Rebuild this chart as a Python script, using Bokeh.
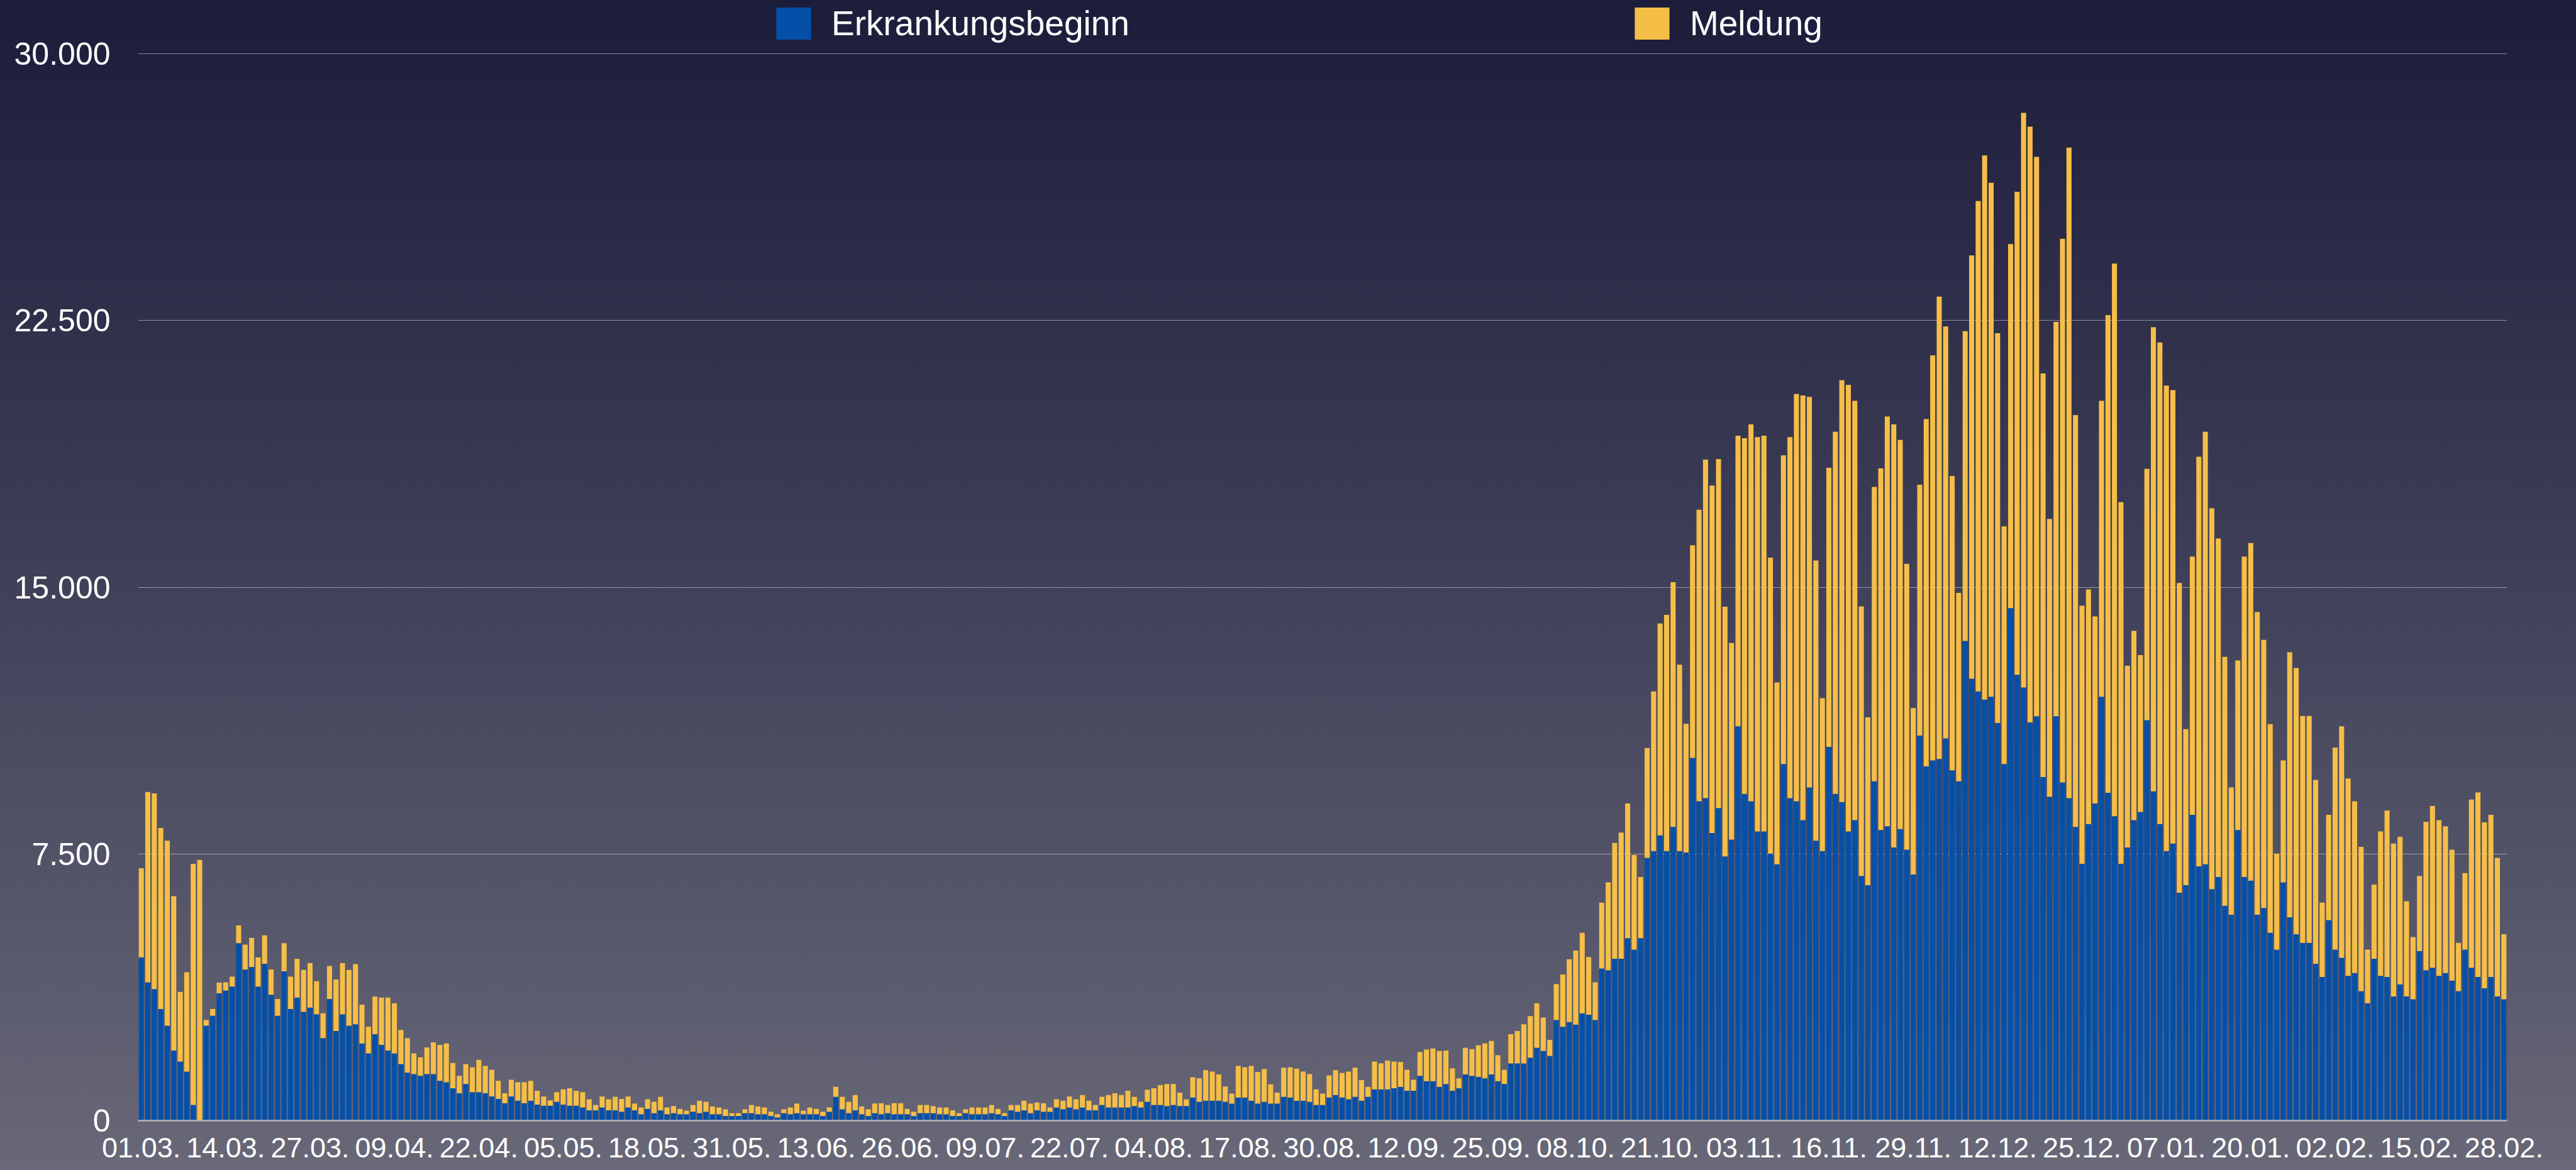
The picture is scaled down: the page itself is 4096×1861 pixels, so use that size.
from bokeh.plotting import figure
from bokeh.models import ColumnDataSource, Range1d, FixedTicker, Legend, LegendItem
from bokeh.embed import file_html
from bokeh.resources import INLINE

# ---- data ----
tick_labels = ["01.03.", "14.03.", "27.03.", "09.04.", "22.04.", "05.05.", "18.05.", "31.05.",
               "13.06.", "26.06.", "09.07.", "22.07.", "04.08.", "17.08.", "30.08.", "12.09.",
               "25.09.", "08.10.", "21.10.", "03.11.", "16.11.", "29.11.", "12.12.", "25.12.",
               "07.01.", "20.01.", "02.02.", "15.02.", "28.02."]
y_ticks = [0, 7500, 15000, 22500, 30000]
y_tick_labels = ["0", "7.500", "15.000", "22.500", "30.000"]
series_names = ["Erkrankungsbeginn", "Meldung"]

erkrankungsbeginn = [
    4590, 3890, 3700, 3140, 2670, 1970, 1660, 1380, 440, 0,
    2670, 2950, 3580, 3660, 3770, 4990, 4250, 4320, 3770, 4410,
    3540, 2950, 4200, 3140, 3460, 3060, 3180, 2990, 2320, 3420,
    2520, 2990, 2670, 2710, 2170, 1890, 2430, 2130, 1970, 1890,
    1590, 1350, 1310, 1260, 1310, 1310, 1120, 1080, 910, 770,
    1030, 800, 800, 770, 680, 610, 490, 680, 560, 490,
    560, 450, 420, 420, 530, 450, 420, 420, 370, 290,
    290, 370, 290, 290, 250, 370, 290, 180, 330, 210,
    290, 180, 210, 180, 180, 250, 210, 250, 180, 180,
    130, 130, 130, 210, 210, 180, 180, 130, 90, 210,
    180, 210, 180, 180, 180, 130, 250, 670, 320, 210,
    290, 180, 130, 210, 180, 210, 180, 180, 180, 130,
    210, 210, 210, 180, 180, 130, 130, 210, 180, 180,
    180, 210, 180, 130, 290, 250, 290, 210, 290, 250,
    250, 370, 320, 370, 320, 370, 290, 290, 440, 370,
    370, 370, 370, 410, 370, 530, 440, 440, 410, 440,
    410, 410, 650, 530, 560, 560, 560, 530, 480, 650,
    650, 560, 480, 530, 480, 480, 670, 650, 560, 560,
    530, 440, 440, 650, 720, 650, 600, 670, 560, 670,
    880, 880, 880, 910, 950, 840, 840, 1260, 1110, 1110,
    950, 1030, 840, 910, 1300, 1260, 1230, 1190, 1300, 1110,
    1030, 1610, 1610, 1610, 1770, 2050, 1960, 1820, 2830, 2640,
    2770, 2700, 3020, 2980, 2830, 4280, 4230, 4550, 4550, 5130,
    4810, 5130, 7390, 7580, 8020, 7580, 8260, 7580, 7540, 10200,
    8980, 9070, 8090, 8790, 7430, 7900, 11090, 9190, 8980, 8130,
    8130, 7510, 7210, 10030, 9070, 8980, 8450, 9370, 7870, 7580,
    10510, 9190, 8960, 8130, 8450, 6880, 6620, 9540, 8170, 8280,
    7680, 8200, 7620, 6920, 10830, 9960, 10130, 10170, 10750, 9850,
    9540, 13490, 12430, 12070, 11840, 11920, 11180, 10030, 14410, 12540,
    12180, 11200, 11370, 9660, 9110, 11370, 9510, 9070, 8260, 7220,
    8340, 8920, 11920, 9220, 8560, 7220, 7680, 8450, 8680, 11260,
    9260, 8340, 7580, 7790, 6410, 6620, 8600, 7150, 7210, 6510,
    6850, 6040, 5790, 8170, 6850, 6750, 5790, 5980, 5280, 4810,
    6700, 5720, 5240, 5000, 5000, 4410, 4040, 5640, 4810, 4580,
    4070, 4150, 3640, 3300, 4550, 4070, 4040, 3490, 3830, 3490,
    3410, 4770, 4230, 4300, 4070, 4150, 3940, 3640, 4810, 4300,
    4040, 3720, 4040, 3490, 3410,
]

meldung = [
    2510, 5350, 5500, 5090, 5200, 4340, 1960, 2790, 6780, 7330,
    160, 190, 300, 230, 280, 500, 700, 820, 820, 800,
    710, 470, 790, 910, 1090, 1180, 1250, 930, 700, 930,
    1450, 1440, 1570, 1690, 1090, 750, 1060, 1330, 1490, 1410,
    960, 970, 580, 520, 750, 890, 1010, 1090, 710, 490,
    560, 700, 910, 770, 750, 510, 280, 470, 520, 590,
    560, 390, 260, 150, 270, 430, 490, 420, 430, 310,
    150, 310, 310, 380, 360, 310, 190, 190, 270, 320,
    380, 190, 200, 150, 100, 190, 350, 280, 220, 190,
    190, 80, 80, 110, 230, 220, 190, 120, 90, 110,
    190, 270, 100, 190, 150, 120, 120, 280, 350, 320,
    430, 220, 190, 270, 310, 230, 310, 310, 150, 120,
    230, 230, 200, 190, 190, 160, 80, 110, 190, 190,
    190, 230, 150, 80, 150, 190, 270, 270, 220, 240,
    120, 230, 240, 310, 280, 350, 270, 150, 230, 350,
    400, 350, 470, 260, 160, 340, 470, 560, 620, 590,
    380, 190, 570, 660, 860, 820, 740, 430, 280, 890,
    850, 980, 890, 920, 540, 310, 820, 850, 900, 820,
    780, 440, 320, 620, 700, 690, 780, 820, 580, 280,
    780, 730, 810, 750, 700, 590, 310, 670, 890, 920,
    1010, 940, 630, 280, 750, 750, 890, 980, 940, 730,
    400, 820, 910, 1100, 1170, 1250, 940, 450, 1010, 1470,
    1770, 2080, 2260, 1620, 1060, 1850, 2470, 3260, 3550, 3790,
    2660, 1720, 3090, 4490, 5960, 6640, 6880, 5240, 3620, 5980,
    8200, 9520, 9770, 9810, 7020, 5530, 8170, 10000, 10600, 11090,
    11130, 8320, 5110, 8680, 10150, 11450, 11940, 10980, 7880, 4300,
    7850, 10180, 11860, 12560, 11790, 7580, 4720, 8280, 10170, 11520,
    11900, 10940, 8040, 4680, 7050, 9770, 11390, 13000, 11580, 8280,
    5300, 8710, 11900, 13790, 15300, 14450, 10960, 6680, 10240, 13580,
    16160, 16750, 15730, 11350, 7810, 11090, 15290, 18290, 11580, 7260,
    6600, 5260, 8320, 13430, 15540, 10170, 5110, 5320, 4410, 7070,
    13050, 13540, 13090, 12750, 8710, 4390, 7260, 11520, 12160, 10710,
    9520, 7000, 3580, 4770, 9010, 9490, 8510, 7540, 5870, 2700,
    3430, 7450, 7490, 6380, 6380, 5170, 2090, 2960, 5680, 6510,
    5550, 4830, 4060, 1510, 2090, 4060, 4680, 4300, 4150, 2680,
    1750, 2110, 4170, 4550, 4380, 4130, 3680, 1360, 2150, 4730,
    5190, 4670, 4560, 3900, 1830,
]

days = list(range(len(erkrankungsbeginn)))
tick_positions = [13 * k for k in range(len(tick_labels))]

BLUE = "#0450a9"
YELLOW = "#f5be47"
FONT = "Liberation Sans"

# layout (pixels): the frame reaches the top of the figure so the legend sits inside it;
# the value axis keeps 0..30000 over the lower FRAME_H - TOP_GAP pixels.
FRAME_W, FRAME_H, TOP_GAP = 3767, 1782, 85
y_top = y_ticks[-1] * FRAME_H / (FRAME_H - TOP_GAP)

source = ColumnDataSource(dict(day=days, erkrankungsbeginn=erkrankungsbeginn, meldung=meldung))

p = figure(frame_width=FRAME_W, frame_height=FRAME_H, output_backend="svg", toolbar_location=None,
           x_range=Range1d(-0.5, len(days) - 0.5), y_range=Range1d(0, y_top),
           min_border_left=219, min_border_right=110, min_border_top=0, min_border_bottom=79)
p.styles = {"background": "linear-gradient(180deg, #1c1d3a 0%, #3c3c56 45%, #686878 100%)"}
p.background_fill_color = None
p.border_fill_color = None
p.outline_line_color = None

renderers = p.vbar_stack(["erkrankungsbeginn", "meldung"], x="day", width=0.78,
                         color=[BLUE, YELLOW], line_color=None, source=source)

# axes
xa = p.xaxis[0]
xa.ticker = FixedTicker(ticks=tick_positions)
xa.major_label_overrides = {t: lab for t, lab in zip(tick_positions, tick_labels)}
xa.axis_line_color = "#b6b6b8"
xa.axis_line_width = 2.5
xa.major_tick_line_color = None
xa.minor_tick_line_color = None
xa.major_tick_out = 0
xa.major_tick_in = 0
xa.minor_tick_out = 0
xa.minor_tick_in = 0
xa.major_label_text_color = "white"
xa.major_label_text_font = FONT
xa.major_label_text_font_size = "45px"
xa.major_label_standoff = 27

ya = p.yaxis[0]
ya.ticker = FixedTicker(ticks=y_ticks)
ya.major_label_overrides = {t: lab for t, lab in zip(y_ticks, y_tick_labels)}
ya.axis_line_color = None
ya.major_tick_line_color = None
ya.minor_tick_line_color = None
ya.major_tick_out = 0
ya.major_tick_in = 0
ya.minor_tick_out = 0
ya.minor_tick_in = 0
ya.major_label_text_color = "white"
ya.major_label_text_font = FONT
ya.major_label_text_font_size = "50px"
ya.major_label_standoff = 44

p.xgrid.grid_line_color = None
p.ygrid.ticker = FixedTicker(ticks=y_ticks[1:])
p.ygrid.grid_line_color = "white"
p.ygrid.grid_line_alpha = 0.45
p.ygrid.grid_line_width = 1

legend = Legend(items=[LegendItem(label=series_names[0], renderers=[renderers[0]]),
                       LegendItem(label=series_names[1], renderers=[renderers[1]])],
                location=(1008, 1713), orientation="horizontal",
                glyph_width=69, glyph_height=64, label_standoff=26, spacing=796,
                padding=0, margin=0, border_line_color=None, background_fill_alpha=0,
                label_text_color="white", label_text_font=FONT, label_text_font_size="55px")
p.add_layout(legend, "center")

open("out.html", "w").write(file_html(p, INLINE))
